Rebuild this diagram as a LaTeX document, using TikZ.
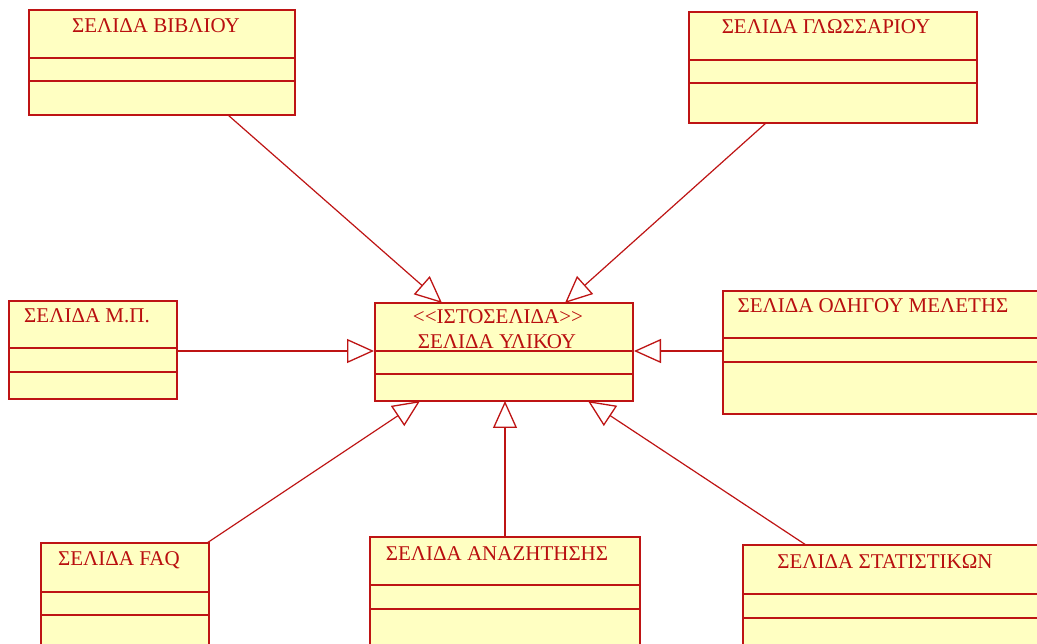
\documentclass[tikz,border=0pt]{standalone}
\usepackage{fontspec}
\setmainfont{Liberation Serif}
\usetikzlibrary{arrows.meta,calc}
\definecolor{umlline}{RGB}{190,20,20}
\definecolor{umlfill}{RGB}{255,255,194}
\definecolor{umltext}{RGB}{185,15,15}
\begin{document}
\begin{tikzpicture}[x=1pt,y=-1pt,
  classbox/.style={draw=umlline,fill=umlfill,line width=1.8pt},
  compart/.style={draw=umlline,line width=1.4pt},
  title/.style={text=umltext,font=\fontsize{21}{24}\selectfont,inner sep=0pt,anchor=base},
  inherit/.style={draw=umlline,line width=1.2pt,
    -{Triangle[open,length=27pt,width=24pt,line width=1.3pt]}}]
\clip (0,0) rectangle (1037,644);
\fill[white] (0,0) rectangle (1037,644);

% class boxes: outline and the two compartment rules
\draw[classbox] (29,10) rectangle (295,115);
\draw[compart] (29,58) -- (295,58) (29,81) -- (295,81);
\draw[classbox] (689,12) rectangle (977,123);
\draw[compart] (689,60) -- (977,60) (689,83) -- (977,83);
\draw[classbox] (375,303) rectangle (633,401);
\draw[compart] (375,351) -- (633,351) (375,374) -- (633,374);
\draw[classbox] (9,301) rectangle (177,399);
\draw[compart] (9,348) -- (177,348) (9,372) -- (177,372);
\draw[classbox] (723,291) rectangle (1045,414);
\draw[compart] (723,338) -- (1045,338) (723,362) -- (1045,362);
\draw[classbox] (41,543) rectangle (209,660);
\draw[compart] (41,592) -- (209,592) (41,615) -- (209,615);
\draw[classbox] (370,537) rectangle (640,660);
\draw[compart] (370,585) -- (640,585) (370,609) -- (640,609);
\draw[classbox] (743,545) rectangle (1045,660);
\draw[compart] (743,594) -- (1045,594) (743,618) -- (1045,618);

% class names
\node[title] (bib) at (156,33) {ΣΕΛΙΔΑ ΒΙΒΛΙΟΥ};
\node[title] (glo) at (826,34) {ΣΕΛΙΔΑ ΓΛΩΣΣΑΡΙΟΥ};
\node[title] (hubst) at (498,324) {<{}<ΙΣΤΟΣΕΛΙΔΑ>{}>};
\node[title] (hub) at (497,349) {ΣΕΛΙΔΑ ΥΛΙΚΟΥ};
\node[title] (mp) at (87,323) {ΣΕΛΙΔΑ Μ.Π.};
\node[title] (odi) at (873,313) {ΣΕΛΙΔΑ ΟΔΗΓΟΥ ΜΕΛΕΤΗΣ};
\node[title] (faq) at (119,565) {ΣΕΛΙΔΑ FAQ};
\node[title] (ana) at (497,560) {ΣΕΛΙΔΑ ΑΝΑΖΗΤΗΣΗΣ};
\node[title] (sta) at (885,568) {ΣΕΛΙΔΑ ΣΤΑΤΙΣΤΙΚΩΝ};

% connector ends on the class boxes
\coordinate (bibS) at (228,115);
\coordinate (gloS) at (766,123);
\coordinate (mpE) at (177,351);
\coordinate (odiW) at (723,351);
\coordinate (faqN) at (207,543);
\coordinate (anaN) at (505,537);
\coordinate (staN) at (806,545);
\coordinate (hubTL) at (442,303);
\coordinate (hubTR) at (565,303);
\coordinate (hubL) at (374,351);
\coordinate (hubR) at (634,351);
\coordinate (hubBL) at (420,401);
\coordinate (hubB) at (505,401);
\coordinate (hubBR) at (588,401);

% generalisations towards the central page
\draw[inherit] (bibS) -- (hubTL);
\draw[inherit] (gloS) -- (hubTR);
\draw[inherit] (mpE) -- (hubL);
\draw[inherit] (odiW) -- (hubR);
\draw[inherit] (faqN) -- (hubBL);
\draw[inherit] (anaN) -- (hubB);
\draw[inherit] (staN) -- (hubBR);
\end{tikzpicture}
\end{document}
